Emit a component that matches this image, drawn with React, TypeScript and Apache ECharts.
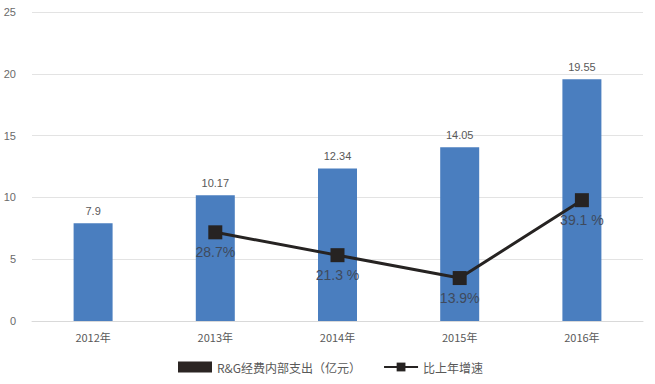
import React, { useEffect, useRef } from "react";
import * as echarts from "echarts";

const categories = ["2012年", "2013年", "2014年", "2015年", "2016年"];
const spending = [7.9, 10.17, 12.34, 14.05, 19.55];
const growth: (number | null)[] = [null, 28.7, 21.3, 13.9, 39.1];
const growthLabels = ["", "28.7%", "21.3 %", "13.9%", "39.1 %"];
const yTicks = [0, 5, 10, 15, 20, 25];

export default function App() {
  const ref = useRef<HTMLDivElement>(null);
  useEffect(() => {
    if (!ref.current) return;
    const chart = echarts.init(ref.current, null, { renderer: "svg" });
    chart.setOption({
      animation: false,
      backgroundColor: "#ffffff",
      textStyle: { fontFamily: "Liberation Sans, Noto Sans CJK SC, sans-serif" },
      grid: { left: 32, right: 12, top: 12, bottom: 63 },
      legend: {
        bottom: 6,
        left: 173,
        itemGap: 22,
        itemWidth: 34,
        itemHeight: 11,
        textStyle: { color: "#595959", fontSize: 12, fontFamily: "Noto Sans CJK SC, sans-serif" },
        data: [
          { name: "R&G经费内部支出（亿元）", icon: "rect", itemStyle: { color: "#2b2523" } },
          { name: "比上年增速" },
        ],
      },
      xAxis: {
        type: "category",
        data: categories,
        axisLine: { lineStyle: { color: "#d9d9d9" } },
        axisTick: { show: false },
        axisLabel: { color: "#595959", fontSize: 11, margin: 10, fontFamily: "Noto Sans CJK SC, sans-serif" },
      },
      yAxis: [
        {
          type: "value",
          min: yTicks[0],
          max: yTicks[yTicks.length - 1],
          interval: 5,
          axisLine: { show: false },
          axisTick: { show: false },
          axisLabel: { color: "#6a6a6a", fontSize: 11, margin: 16 },
          splitLine: { lineStyle: { color: "#e3e3e3" } },
        },
        { type: "value", min: 0, max: 100, show: false, splitLine: { show: false } },
      ],
      series: [
        {
          name: "R&G经费内部支出（亿元）",
          type: "bar",
          data: spending,
          barWidth: 39,
          itemStyle: { color: "#4a7ebf" },
          label: { show: true, position: "top", color: "#595959", fontSize: 11, distance: 7 },
        },
        {
          name: "比上年增速",
          type: "line",
          yAxisIndex: 1,
          data: growth,
          symbol: "rect",
          symbolSize: 14,
          lineStyle: { color: "#262322", width: 3 },
          itemStyle: { color: "#262322" },
          label: {
            show: true,
            position: "bottom",
            distance: 6,
            color: "#3f4a5c",
            fontSize: 14,
            formatter: (p: any) => growthLabels[p.dataIndex],
          },
        },
      ],
    });
    return () => chart.dispose();
  }, []);
  return <div ref={ref} style={{ width: 655, height: 384, position: "absolute", left: 0, top: 0 }} />;
}
